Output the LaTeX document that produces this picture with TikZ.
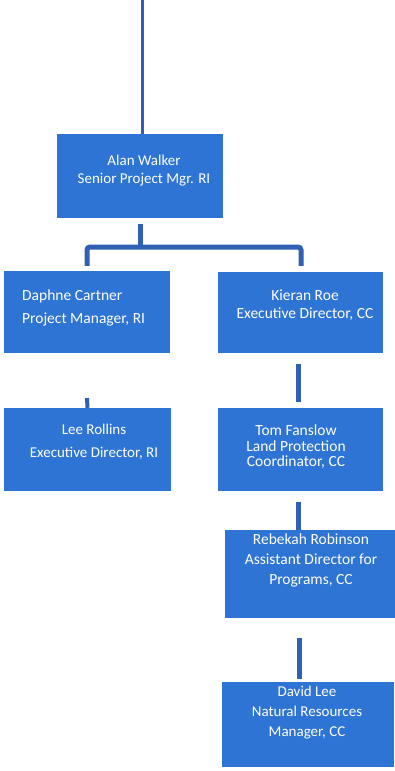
\documentclass[tikz,border=0pt]{standalone}
\usepackage{fontspec}
\setmainfont{Carlito}
\usepackage{tikz}

\definecolor{boxblue}{RGB}{45,116,212}
\definecolor{lineblue}{RGB}{47,96,180}

\begin{document}
\begin{tikzpicture}[x=1pt, y=-1pt,
	box/.style={draw=none, fill=boxblue, rectangle, inner sep=0pt},
	link/.style={draw=lineblue, line width=5pt, rounded corners=3pt},
	txt/.style={text=white, inner sep=0pt, align=center}]
	\useasboundingbox (0,0) rectangle (395,771);

	% boxes
	\node[box, minimum width=166pt, minimum height=84pt] (alan) at (140,176) {};
	\node[box, minimum width=166pt, minimum height=82pt] (daphne) at (87,312) {};
	\node[box, minimum width=165pt, minimum height=81pt] (kieran) at (300.5,312.5) {};
	\node[box, minimum width=167pt, minimum height=83pt] (lee) at (87.5,449.5) {};
	\node[box, minimum width=165pt, minimum height=83pt] (tom) at (300.5,449.5) {};
	\node[box, minimum width=170pt, minimum height=88pt] (rebekah) at (310,574) {};
	\node[box, minimum width=172pt, minimum height=85pt] (david) at (308,724.5) {};

	% names
	\node[txt, font=\fontsize{15}{18}\selectfont] (alanT) at (144,171) {Alan Walker\\Senior Project Mgr. RI};
	\node[txt, align=left, anchor=west, font=\fontsize{15.5}{23}\selectfont] (daphneT) at (22,307.5) {Daphne Cartner\\Project Manager, RI};
	\node[txt, font=\fontsize{15.5}{18}\selectfont] (kieranT) at (305,305) {Kieran Roe\\Executive Director, CC};
	\node[txt, font=\fontsize{15}{23}\selectfont] (leeT) at (94,441.5) {Lee Rollins\\Executive Director, RI};
	\node[txt, font=\fontsize{15.5}{15.5}\selectfont] (tomT) at (296,447) {Tom Fanslow\\Land Protection\\Coordinator, CC};
	\node[txt, font=\fontsize{15.5}{20}\selectfont] (rebekahT) at (311,560) {Rebekah Robinson\\Assistant Director for\\Programs, CC};
	\node[txt, font=\fontsize{15}{20}\selectfont] (davidT) at (307,713) {David Lee\\Natural Resources\\Manager, CC};

	% connectors
	\coordinate (top) at (142,0);
	\coordinate (fork) at (140,247);
	\coordinate (leeStub) at (87,398);
	\draw[link, line width=3pt] (top) -- ([xshift=2pt]alan.north);
	\draw[link] ([yshift=-6pt]alan.south) -- (fork);
	\draw[link] ([yshift=5pt]daphne.north) |- (fork) -| ([yshift=6pt, xshift=0.5pt]kieran.north);
	\draw[link, line width=4pt] (leeStub) -- (lee.north);
	\draw[link, shorten <=11pt, shorten >=6pt] ([xshift=-2.5pt]kieran.south) -- ([xshift=-2.5pt]tom.north);
	\draw[link, shorten <=11pt] ([xshift=-2.5pt]tom.south) -- ([xshift=-12pt]rebekah.north);
	\draw[link, shorten <=20pt, shorten >=3pt] ([xshift=-11pt]rebekah.south) -- ([xshift=-9pt]david.north);
\end{tikzpicture}
\end{document}
